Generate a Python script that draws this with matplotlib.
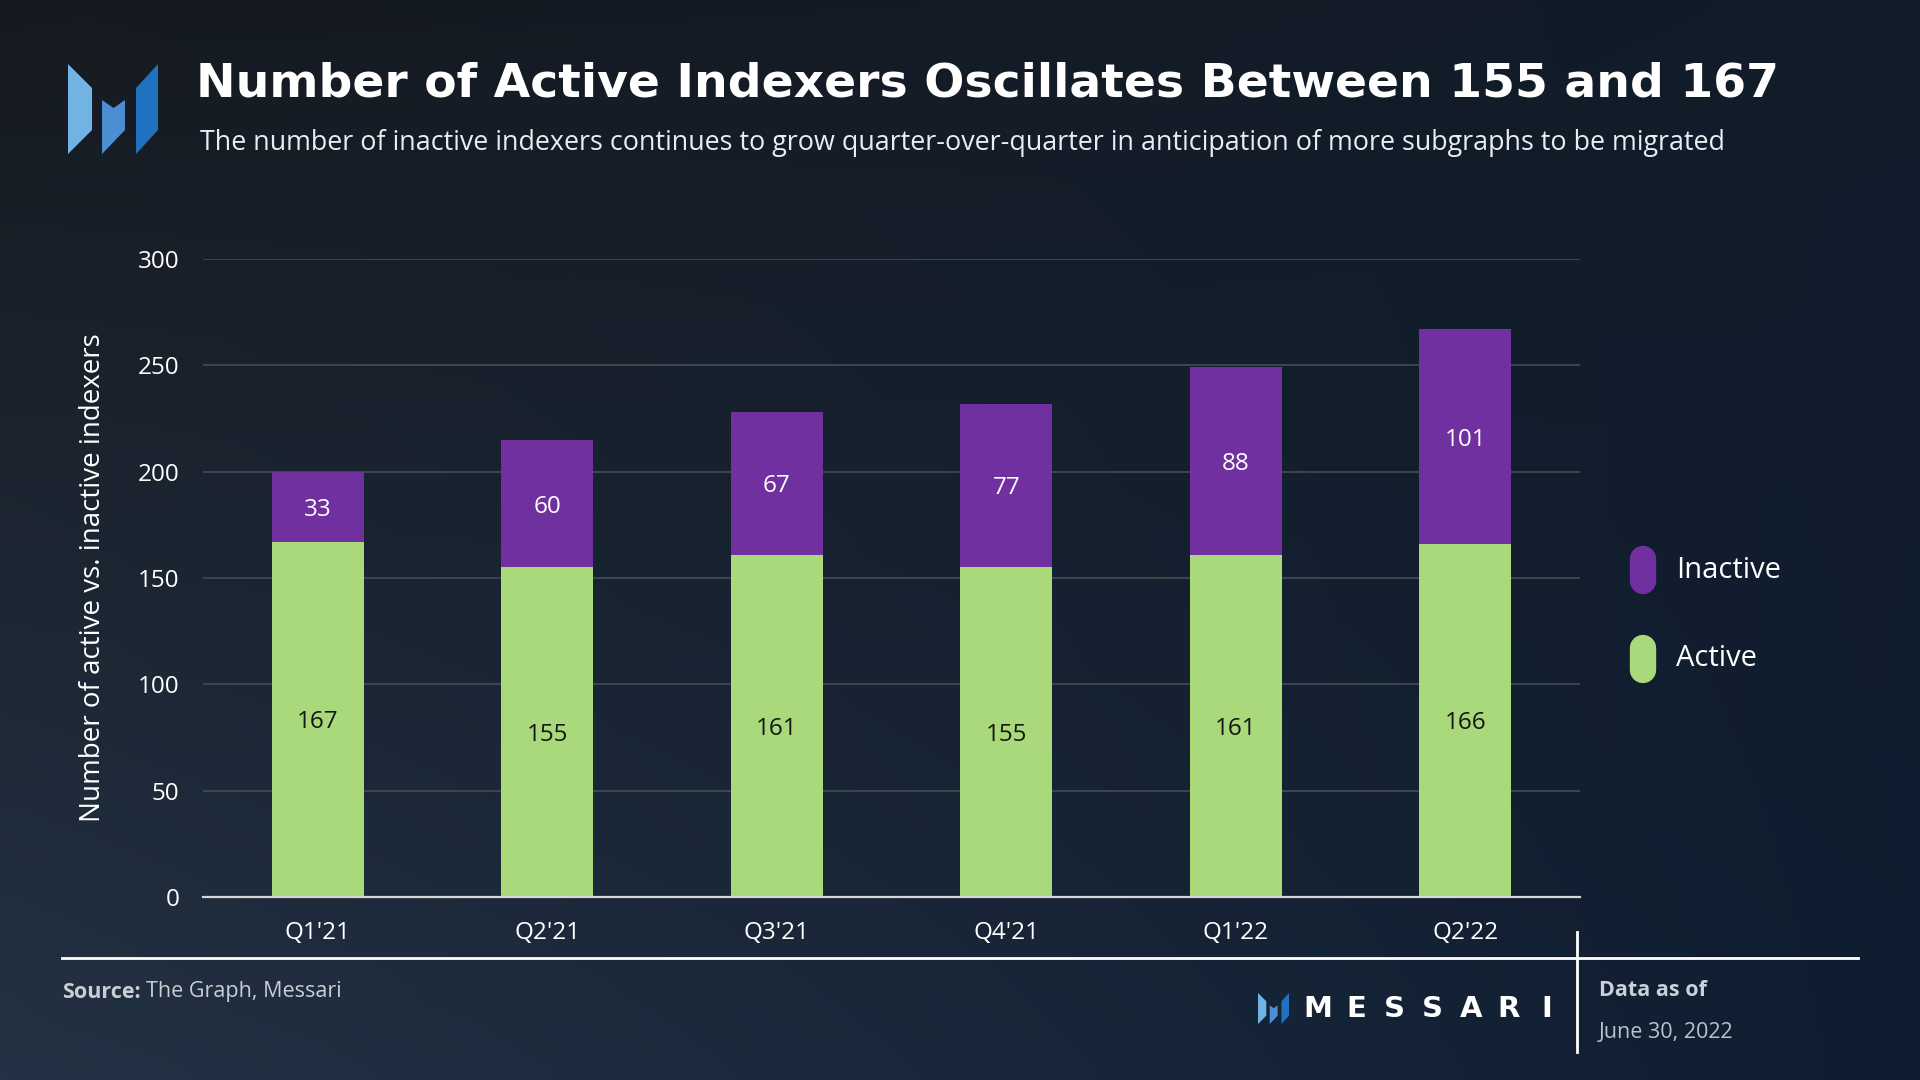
import numpy as np
import matplotlib
matplotlib.use('Agg')
import matplotlib.pyplot as plt
from matplotlib.patches import Polygon
from matplotlib.lines import Line2D
from matplotlib.colors import to_rgb

quarters = ["Q1'21", "Q2'21", "Q3'21", "Q4'21", "Q1'22", "Q2'22"]
active = [167, 155, 161, 155, 161, 166]
inactive = [33, 60, 67, 77, 88, 101]
yticks = [0, 50, 100, 150, 200, 250, 300]

purple = '#7030A0'
green = '#A9D97A'
W, H = 1920, 1080

plt.rcParams['font.family'] = ['Open Sans', 'DejaVu Sans']

fig = plt.figure(figsize=(19.2, 10.8), dpi=100)


def fx(x):
    return x / W


def fy(y):
    return 1 - y / H


# background gradient
tl, tr = np.array(to_rgb('#161a20')), np.array(to_rgb('#111c2a'))
bl, br = np.array(to_rgb('#233244')), np.array(to_rgb('#0f1d31'))
u = np.linspace(0, 1, 200)[None, :, None]
v = np.linspace(0, 1, 120)[:, None, None]
grad = (1 - v) * ((1 - u) * tl + u * tr) + v * ((1 - u) * bl + u * br)
bg = fig.add_axes([0, 0, 1, 1])
bg.imshow(grad, aspect='auto', extent=[0, 1, 0, 1], interpolation='bilinear')
bg.axis('off')

# main axes
ax = fig.add_axes([fx(203), fy(897), fx(1580) - fx(203), fy(259) - fy(897)])
ax.patch.set_alpha(0)
x = np.arange(len(quarters))
b1 = ax.bar(x, active, width=0.4, color=green, label='Active', zorder=3)
b2 = ax.bar(x, inactive, width=0.4, bottom=active, color=purple, label='Inactive', zorder=3)

for i in range(len(quarters)):
    ax.text(x[i], active[i] / 2, str(active[i]), ha='center', va='center_baseline',
            fontsize=17.5, color='#161616', zorder=4)
    ax.text(x[i], active[i] + inactive[i] / 2, str(inactive[i]), ha='center',
            va='center_baseline', fontsize=17.5, color='white', zorder=4)

ax.set_xlim(-0.5, len(quarters) - 0.5)
ax.set_ylim(0, 300)
ax.set_yticks(yticks)
ax.set_xticks(x)
ax.set_xticklabels(quarters)
ax.tick_params(axis='both', length=0, colors='white', labelsize=17.5)
ax.tick_params(axis='y', pad=17)
ax.tick_params(axis='x', pad=17)
ax.yaxis.grid(True, color='#43484e', linewidth=1.3, zorder=0)
ax.set_axisbelow(True)
for s in ['top', 'right', 'left']:
    ax.spines[s].set_visible(False)
ax.spines['bottom'].set_color('#d5d8db')
ax.spines['bottom'].set_linewidth(1.6)
ax.spines['bottom'].set_zorder(5)

ax.set_ylabel('Number of active vs. inactive indexers', color='white', fontsize=20, labelpad=22)

# legend (pill markers)
for lab, col, yc in [('Inactive', purple, 570), ('Active', green, 659)]:
    fig.add_artist(Line2D([fx(1643), fx(1643)], [fy(yc + 11), fy(yc - 11)],
                          transform=fig.transFigure, color=col, lw=19,
                          solid_capstyle='round'))
    fig.text(fx(1676), fy(yc), lab, color='white', fontsize=21, va='center', ha='left')


def fit_text(t, target):
    r = fig.canvas.get_renderer()
    w = t.get_window_extent(r).width
    t.set_fontsize(t.get_fontsize() * target / w)


title = fig.text(fx(196), fy(84), 'Number of Active Indexers Oscillates Between 155 and 167',
                 color='white', fontsize=34, fontweight='bold', va='center',
                 family=['DejaVu Sans'])
fit_text(title, 1583)
sub = fig.text(fx(200), fy(143),
               'The number of inactive indexers continues to grow quarter-over-quarter '
               'in anticipation of more subgraphs to be migrated',
               color='#e8edf2', fontsize=20, va='center')
fit_text(sub, 1525)


def logo(x0, y0, s):
    shapes = [
        ([(0, 0), (0.267, 0.267), (0.267, 0.733), (0, 1)], '#72B3E5'),
        ([(0.378, 0.4), (0.506, 0.489), (0.633, 0.4), (0.633, 0.733), (0.378, 1)], '#4B8FD2'),
        ([(0.756, 0.267), (1, 0), (1, 0.733), (0.756, 1)], '#2171C1'),
    ]
    for pts, c in shapes:
        xy = [(fx(x0 + px * s), fy(y0 + py * s)) for px, py in pts]
        fig.add_artist(Polygon(xy, closed=True, transform=fig.transFigure, color=c, lw=0))


logo(68, 64, 90)

# footer
fig.add_artist(Line2D([fx(62), fx(1858)], [fy(958), fy(958)], transform=fig.transFigure,
                      color='white', lw=2))
fig.add_artist(Line2D([fx(1577), fx(1577)], [fy(932), fy(1052)], transform=fig.transFigure,
                      color='white', lw=2))
src = fig.text(fx(62), fy(992), 'Source:', color='#c9ced4', fontsize=15.5,
               fontweight='bold', va='center')
r = fig.canvas.get_renderer()
sw = src.get_window_extent(r).width
fig.text(fx(62 + sw + 5), fy(992), 'The Graph, Messari', color='#c9ced4', fontsize=15.5,
         va='center')
fig.text(fx(1599), fy(991), 'Data as of', color='#c9d1db', fontsize=15.5,
         fontweight='bold', va='center')
fig.text(fx(1599), fy(1033), 'June 30, 2022', color='#b9c3ce', fontsize=15.5, va='center')

logo(1258, 993, 31)
for i, ch in enumerate('MESSARI'):
    fig.text(fx(1318 + i * 38.2), fy(1009), ch, color='white', fontsize=21,
             fontweight='bold', ha='center', va='center', family=['DejaVu Sans'])

fig.savefig('out.png', dpi=100)
